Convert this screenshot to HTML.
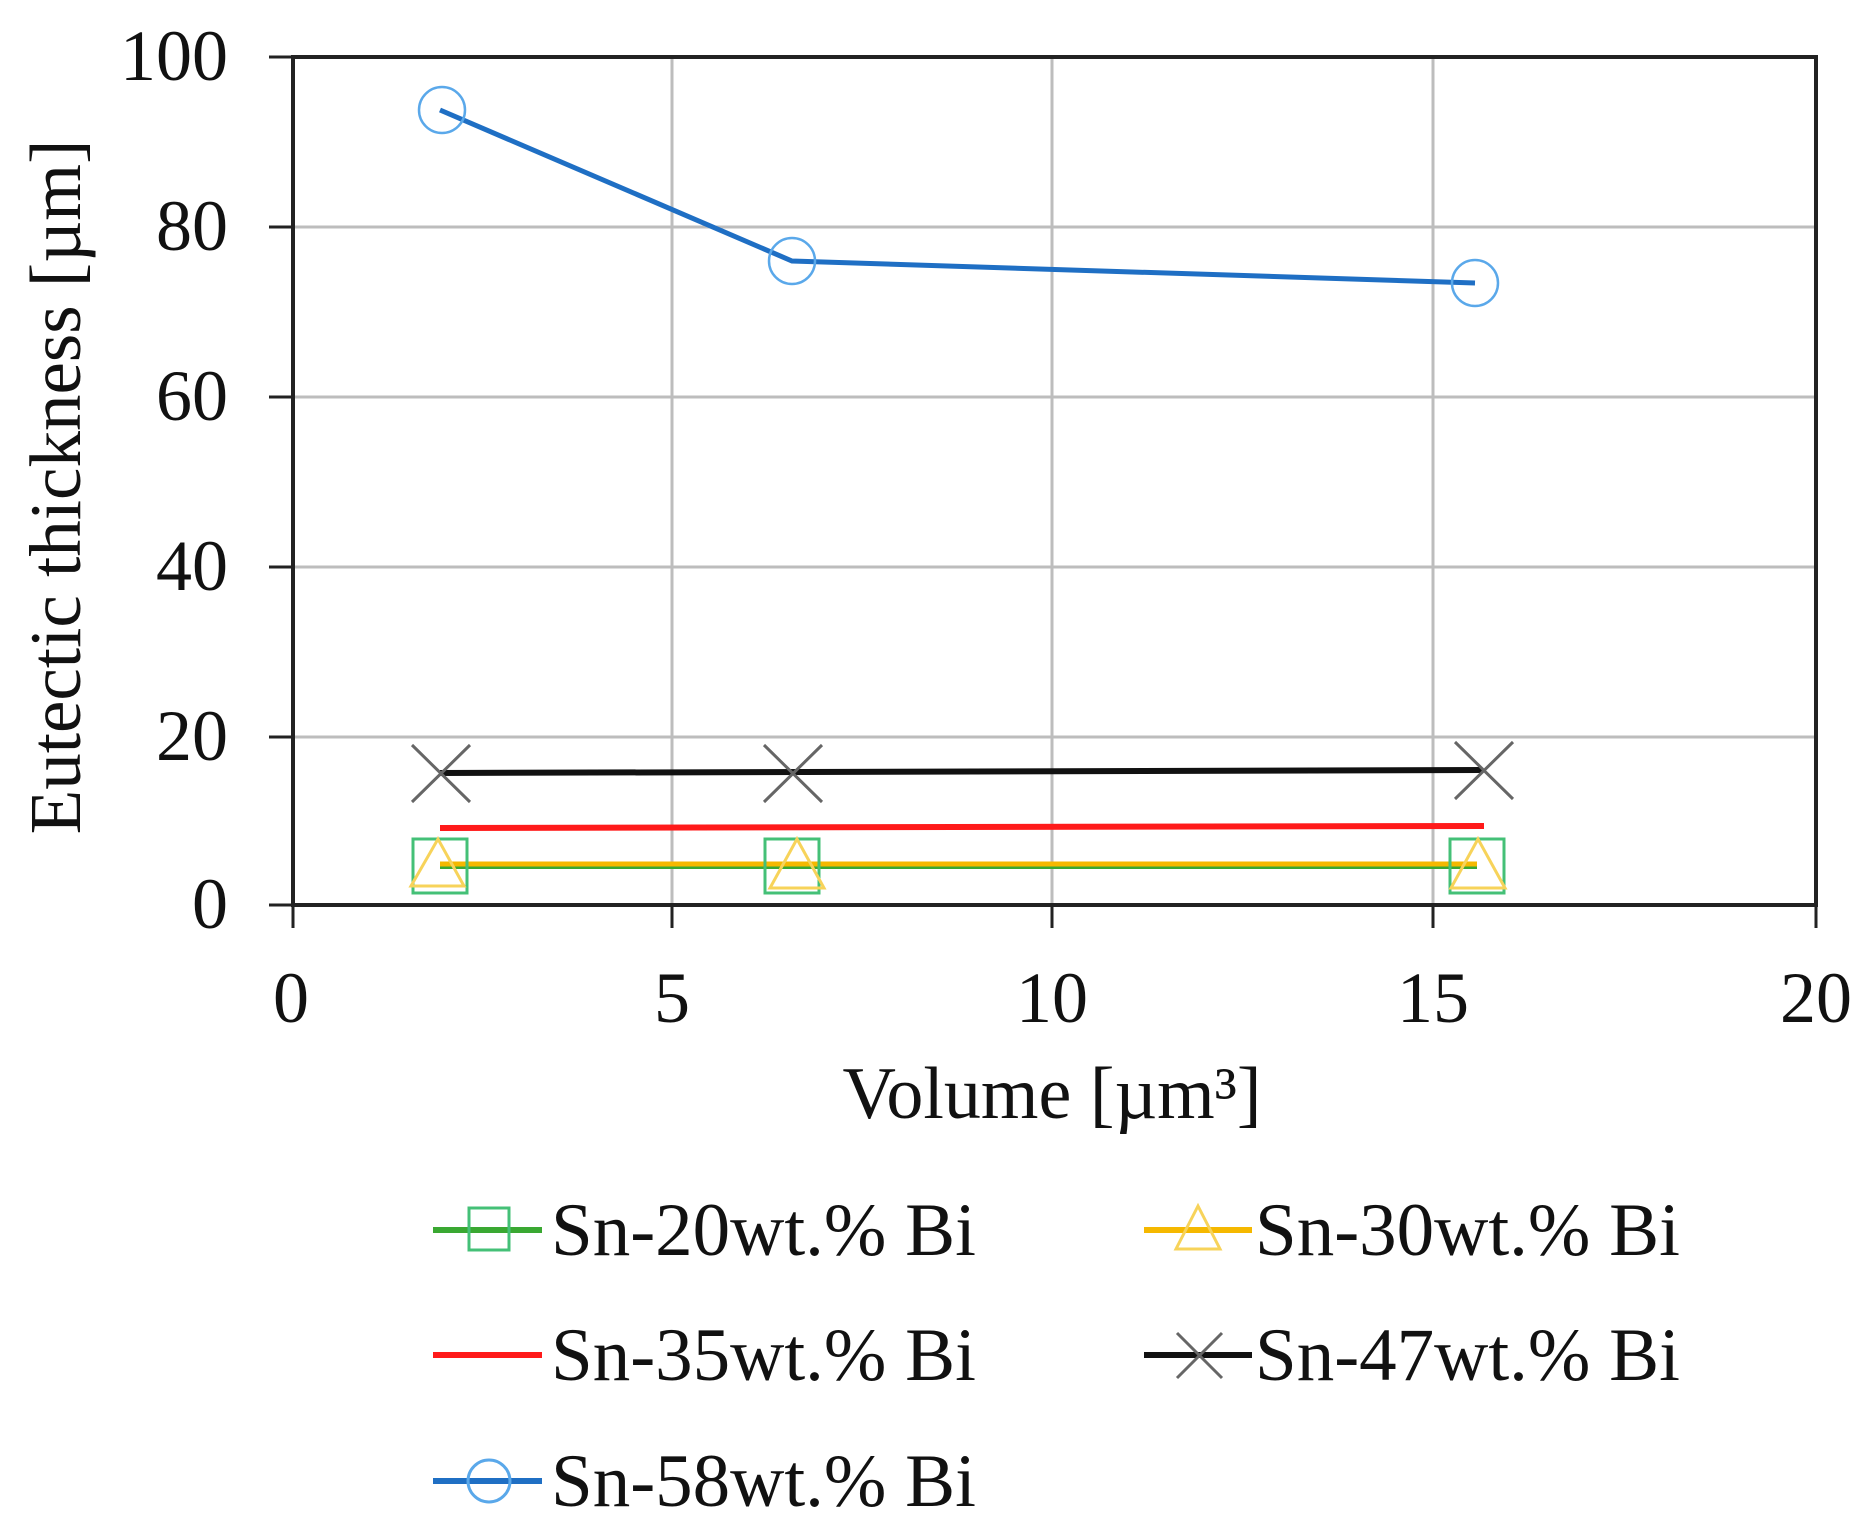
<!DOCTYPE html>
<html><head><meta charset="utf-8"><style>html,body{margin:0;padding:0;background:#fff}svg{display:block}</style></head>
<body>
<svg width="1875" height="1539" viewBox="0 0 1875 1539" xmlns="http://www.w3.org/2000/svg" font-family="'Liberation Serif', serif">
<g stroke="#bdbdbd" stroke-width="3">
<line x1="293" y1="227" x2="1816" y2="227"/><line x1="293" y1="397" x2="1816" y2="397"/><line x1="293" y1="567" x2="1816" y2="567"/><line x1="293" y1="737" x2="1816" y2="737"/>
<line x1="672" y1="57" x2="672" y2="905"/><line x1="1052" y1="57" x2="1052" y2="905"/><line x1="1433" y1="57" x2="1433" y2="905"/>
</g>
<g stroke="#222" stroke-width="3">
<line x1="269" y1="57" x2="293" y2="57"/><line x1="269" y1="227" x2="293" y2="227"/><line x1="269" y1="397" x2="293" y2="397"/><line x1="269" y1="567" x2="293" y2="567"/><line x1="269" y1="737" x2="293" y2="737"/><line x1="269" y1="905" x2="293" y2="905"/>
<line x1="293" y1="905" x2="293" y2="928"/><line x1="672" y1="905" x2="672" y2="928"/><line x1="1052" y1="905" x2="1052" y2="928"/><line x1="1433" y1="905" x2="1433" y2="928"/><line x1="1816" y1="905" x2="1816" y2="928"/>
</g>
<rect x="293" y="57" width="1523" height="848" fill="none" stroke="#222" stroke-width="4"/>
<g font-size="72" fill="#111" text-anchor="end">
<text x="228" y="80">100</text><text x="228" y="250">80</text><text x="228" y="420">60</text><text x="228" y="590">40</text><text x="228" y="760">20</text><text x="228" y="928">0</text>
</g>
<g font-size="72" fill="#111" text-anchor="middle">
<text x="291" y="1022">0</text><text x="672" y="1022">5</text><text x="1052" y="1022">10</text><text x="1433" y="1022">15</text><text x="1816" y="1022">20</text>
<text x="1052" y="1118" font-size="74">Volume [µm³]</text>
<text transform="translate(80,487) rotate(-90)" font-size="73">Eutectic thickness [µm]</text>
</g>
<polyline points="440,110 792,261 1475,283" fill="none" stroke="#1f6fc4" stroke-width="5"/>
<g fill="none" stroke="#5aa8ea" stroke-width="2.5"><circle cx="442" cy="110" r="23"/><circle cx="792" cy="261" r="23"/><circle cx="1475" cy="283" r="23"/></g>
<line x1="440" y1="773" x2="1482" y2="770" stroke="#111" stroke-width="6"/>
<g stroke="#666" stroke-width="3"><path d="M412,745 L470,802 M470,745 L412,802"/><path d="M764,745 L822,802 M822,745 L764,802"/><path d="M1455,742 L1513,799 M1513,742 L1455,799"/></g>
<line x1="440" y1="828" x2="1484" y2="826" stroke="#ff1a1a" stroke-width="6"/>
<line x1="440" y1="866" x2="1477" y2="866" stroke="#3aa832" stroke-width="6"/>
<line x1="440" y1="864" x2="1477" y2="864" stroke="#f5b800" stroke-width="5"/>
<g fill="none" stroke="#44c077" stroke-width="3"><rect x="413" y="839" width="54" height="54"/><rect x="765" y="839" width="54" height="54"/><rect x="1450" y="839" width="54" height="54"/></g>
<g fill="none" stroke="#f7d35a" stroke-width="3"><path d="M438,839 L411,886 L464,886 Z"/><path d="M797,839 L770,888 L824,888 Z"/><path d="M1478,839 L1451,888 L1505,888 Z"/></g>
<g font-size="75" fill="#111">
<line x1="433" y1="1230" x2="542" y2="1230" stroke="#3aa832" stroke-width="6"/><rect x="469" y="1208" width="40" height="42" fill="none" stroke="#44c077" stroke-width="3"/>
<text x="551" y="1255">Sn-20wt.% Bi</text>
<line x1="1144" y1="1230" x2="1252" y2="1230" stroke="#f5b800" stroke-width="6"/><path d="M1198,1206 L1176,1249 L1220,1249 Z" fill="none" stroke="#f7d35a" stroke-width="3"/>
<text x="1255" y="1255">Sn-30wt.% Bi</text>
<line x1="433" y1="1355" x2="542" y2="1355" stroke="#ff1a1a" stroke-width="6"/>
<text x="551" y="1380">Sn-35wt.% Bi</text>
<line x1="1144" y1="1355" x2="1252" y2="1355" stroke="#111" stroke-width="6"/><path d="M1177,1333 L1222,1378 M1222,1333 L1177,1378" stroke="#666" stroke-width="3"/>
<text x="1255" y="1380">Sn-47wt.% Bi</text>
<line x1="433" y1="1481" x2="542" y2="1481" stroke="#1f6fc4" stroke-width="6"/><circle cx="489" cy="1481" r="21" fill="none" stroke="#5aa8ea" stroke-width="3"/>
<text x="551" y="1506">Sn-58wt.% Bi</text>
</g>
</svg>
</body></html>
